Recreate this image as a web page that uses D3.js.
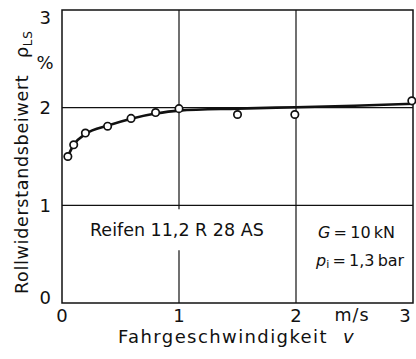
<!DOCTYPE html>
<html>
<head>
<meta charset="utf-8">
<script src="https://cdn.jsdelivr.net/npm/d3@7"></script>
<style>
  html, body { margin: 0; padding: 0; background: #fff; }
  svg { display: block; }
  text { font-family: "DejaVu Sans", sans-serif; fill: #111; }
</style>
</head>
<body>
<svg id="chart" width="416" height="359"></svg>
<script>
// Measured rolling resistance coefficient vs. driving speed
const speedMeasured = [0.05, 0.10, 0.20, 0.39, 0.59, 0.80, 1.00, 1.50, 1.99, 2.99];
const resistanceMeasured = [1.50, 1.62, 1.74, 1.81, 1.89, 1.95, 1.99, 1.93, 1.93, 2.07];

// Fitted trend curve
const speedFit = [0.05, 0.10, 0.20, 0.40, 0.60, 0.80, 1.00, 1.50, 2.00, 2.50, 3.00];
const resistanceFit = [1.50, 1.62, 1.73, 1.82, 1.89, 1.94, 1.97, 1.99, 2.005, 2.02, 2.04];

const xTicks = [0, 1, 2, 3];
const yTicks = [0, 1, 2, 3];

const svg = d3.select("#chart");
const x = d3.scaleLinear().domain([0, 3]).range([62, 413]);
const y = d3.scaleLinear().domain([0, 3]).range([303, 10]);

const ink = "#111";
const fs = 17.5;
const thin = "\u2009";

// Grid lines
const grid = svg.append("g").attr("stroke", ink).attr("stroke-width", 1.2);
[1, 2].forEach(v => {
  grid.append("line").attr("x1", x(0)).attr("x2", x(3)).attr("y1", y(v)).attr("y2", y(v));
});
grid.append("line").attr("x1", x(2)).attr("x2", x(2)).attr("y1", y(3)).attr("y2", y(0));
// vertical at v = 1 is interrupted behind the tyre label
grid.append("line").attr("x1", x(1)).attr("x2", x(1)).attr("y1", y(3)).attr("y2", y(0.96));
grid.append("line").attr("x1", x(1)).attr("x2", x(1)).attr("y1", y(0.54)).attr("y2", y(0));

// Frame
svg.append("rect")
  .attr("x", x(0)).attr("y", y(3))
  .attr("width", x(3) - x(0)).attr("height", y(0) - y(3))
  .attr("fill", "none").attr("stroke", ink).attr("stroke-width", 1.5);

// Tick labels
svg.append("g").selectAll("text").data(yTicks).join("text")
  .attr("x", 51).attr("y", d => y(d) + (d === 3 ? 7 : d === 0 ? -6 : 0))
  .attr("text-anchor", "end").attr("dominant-baseline", "central")
  .attr("font-size", 18).text(d => d);

svg.append("g").selectAll("text").data(xTicks).join("text")
  .attr("x", d => x(d) - (d === 3 ? 8 : 0)).attr("y", 315)
  .attr("text-anchor", "middle").attr("dominant-baseline", "central")
  .attr("font-size", 18).text(d => d);

svg.append("text").attr("x", 352).attr("y", 315)
  .attr("text-anchor", "middle").attr("dominant-baseline", "central")
  .attr("font-size", fs).attr("letter-spacing", 1).text("m/s");

svg.append("text").attr("x", 45).attr("y", 62)
  .attr("text-anchor", "middle").attr("dominant-baseline", "central")
  .attr("font-size", 18).text("%");

// Axis titles
const xt = svg.append("text").attr("x", 118).attr("y", 336)
  .attr("text-anchor", "start").attr("dominant-baseline", "central")
  .attr("font-size", 18).attr("letter-spacing", 1.4);
xt.append("tspan").text("Fahrgeschwindigkeit");
xt.append("tspan").attr("x", 343).attr("font-style", "italic").text("v");

const yt = svg.append("text")
  .attr("transform", "translate(22,294) rotate(-90)")
  .attr("text-anchor", "start").attr("dominant-baseline", "central")
  .attr("font-size", fs).attr("letter-spacing", 0.7);
yt.append("tspan").text("Rollwiderstandsbeiwert");
yt.append("tspan").attr("x", 236).text("ρ");
yt.append("tspan").attr("font-size", 12).attr("dy", 6).text("LS");

// Annotation texts
svg.append("text").attr("x", 90).attr("y", 230)
  .attr("text-anchor", "start").attr("dominant-baseline", "central")
  .attr("font-size", fs).text("Reifen  11,2 R 28 AS");

const g1 = svg.append("text").attr("x", 318).attr("y", 232)
  .attr("text-anchor", "start").attr("dominant-baseline", "central")
  .attr("font-size", 16);
g1.append("tspan").attr("font-style", "italic").text("G");
g1.append("tspan").text(thin + "=" + thin + "10" + thin + "kN");

const g2 = svg.append("text").attr("x", 316).attr("y", 260)
  .attr("text-anchor", "start").attr("dominant-baseline", "central")
  .attr("font-size", 16);
g2.append("tspan").attr("font-style", "italic").text("p");
g2.append("tspan").attr("font-size", 11).attr("dy", 4).text("i");
g2.append("tspan").attr("dy", -4).text(thin + "=" + thin + "1,3" + thin + "bar");

// Fitted curve
const fitData = speedFit.map((v, i) => [v, resistanceFit[i]]);
svg.append("path")
  .datum(fitData)
  .attr("fill", "none").attr("stroke", ink).attr("stroke-width", 2.6)
  .attr("d", d3.line().x(d => x(d[0])).y(d => y(d[1])).curve(d3.curveMonotoneX));

// Measured points
svg.append("g").selectAll("circle")
  .data(speedMeasured.map((v, i) => [v, resistanceMeasured[i]]))
  .join("circle")
  .attr("cx", d => x(d[0])).attr("cy", d => y(d[1])).attr("r", 3.7)
  .attr("fill", "#fff").attr("stroke", ink).attr("stroke-width", 1.7);
</script>
</body>
</html>
